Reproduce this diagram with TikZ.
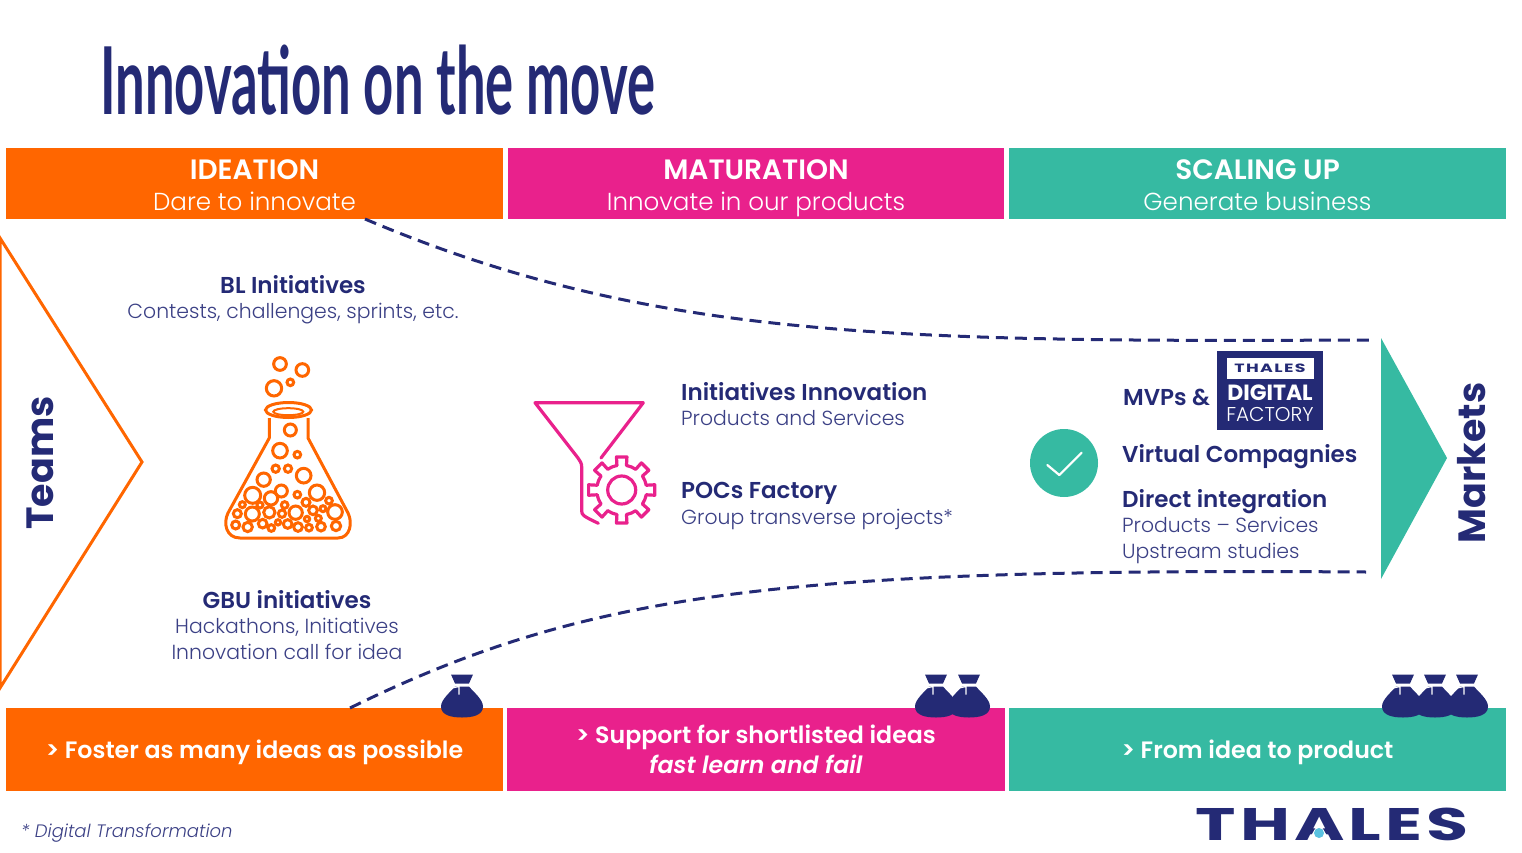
\documentclass[tikz,border=0pt]{standalone}
\usepackage{fontspec}
\usepackage{graphicx}
\setmainfont{Poppins}
\newfontfamily\lightfont{Poppins Light}[ItalicFont={Poppins Light Italic}]
\newfontfamily\semifont{Poppins SemiBold}[ItalicFont={Poppins SemiBold Italic}]
\newfontfamily\handfont{Lato}
\usetikzlibrary{positioning, calc}
\definecolor{thorange}{HTML}{FF6600}
\definecolor{thpink}{HTML}{E9218C}
\definecolor{thteal}{HTML}{36BAA2}
\definecolor{thnavy}{HTML}{242A75}
\definecolor{thsoft}{HTML}{3B4085}
\definecolor{thdot}{HTML}{5BC2E0}
\newcommand{\headtxt}{\fontsize{23}{25.5}\selectfont\semifont\color{thnavy}}
\newcommand{\subtxt}{\fontsize{20.4}{25.5}\selectfont\lightfont\color{thsoft}}
\newcommand{\barhead}{\rule{0pt}{32pt}\fontsize{28}{31}\selectfont\semifont}
\newcommand{\barsub}{\rule[-8pt]{0pt}{8pt}\fontsize{24.6}{31}\selectfont\lightfont}
\tikzset{
    headbar/.style={minimum height=71pt, inner sep=0pt, outer sep=0pt, text=white, align=center,
        font=\fontsize{24}{31}\selectfont},
    footbar/.style={minimum height=83pt, inner sep=0pt, outer sep=0pt, text=white, align=center,
        font=\fontsize{23.7}{30}\selectfont\semifont},
    note/.style={inner sep=0pt, align=center, font=\fontsize{20}{25.5}\selectfont},
    leftnote/.style={note, align=left, anchor=west},
    dashline/.style={draw=thnavy, line width=3pt, dash pattern=on 12pt off 7pt},
    flaskline/.style={draw=thorange, line width=3pt},
    funnelline/.style={draw=thpink, line width=3.2pt, line cap=round, line join=round},
    moneybag/.pic={
        \fill[thnavy] (-11,-21) -- (11,-21) -- (7,-12) -- (-7,-12) -- cycle;
        \fill[thnavy] (-7,-9) -- (7,-9) .. controls (12,-3) and (21,4) .. (21,11)
            .. controls (21,20) and (10,22) .. (0,22)
            .. controls (-10,22) and (-21,20) .. (-21,11)
            .. controls (-21,4) and (-12,-3) .. (-7,-9) -- cycle;
        \draw[white, line width=1.2pt] (-8,-10.5) -- (8,-10.5) (-12,-7) -- (-3,-9) -- (-3,-1);
    }
}
\begin{document}
\begin{tikzpicture}[x=1pt, y=-1pt]
    \useasboundingbox (0,0) rectangle (1522,853);
    % title
    \node[inner sep=0pt, anchor=west, xscale=.73, yscale=1.3] (title) at (100,80)
        {\fontsize{72}{72}\selectfont\handfont\bfseries\color{thnavy}Innovation on the move};
    % top bars
    \node[headbar, fill=thorange, minimum width=497pt, anchor=north west] (ideationbar) at (6,148)
        {\barhead IDEATION\\\barsub Dare to innovate};
    \node[headbar, fill=thpink, minimum width=496pt] (maturationbar) [right=5pt of ideationbar]
        {\barhead MATURATION\\\barsub Innovate in our products};
    \node[headbar, fill=thteal, minimum width=497pt] (scalingbar) [right=5pt of maturationbar]
        {\barhead SCALING UP\\\barsub Generate business};
    % bottom bars
    \node[footbar, fill=thorange, minimum width=497pt, anchor=north west] (ideationfoot) at (6,708)
        {\raisebox{-9pt}[0pt][0pt]{> Foster as many ideas as possible}};
    \node[footbar, fill=thpink, minimum width=498pt] (maturationfoot) [right=4pt of ideationfoot]
        {> Support for shortlisted ideas\\\itshape fast learn and fail};
    \node[footbar, fill=thteal, minimum width=497pt] (scalingfoot) [right=4pt of maturationfoot]
        {\raisebox{-9pt}[0pt][0pt]{> From idea to product}};
    % arrows at both sides
    \draw[thorange, line width=3pt, line join=miter] (0,238) -- (142,462) -- (0,688) -- cycle;
    \fill[thteal] (1381,338) -- (1447,458) -- (1381,579) -- cycle;
    \node[inner sep=0pt, rotate=90] (teams) at (40,463)
        {\fontsize{38}{38}\selectfont\bfseries\color{thnavy}Teams};
    \node[inner sep=0pt, rotate=90] (markets) at (1472,463)
        {\fontsize{38}{38}\selectfont\bfseries\color{thnavy}Markets};
    % dashed curves
    \coordinate (upperstart) at (365,219);
    \coordinate (upperend) at (1370,340);
    \coordinate (lowerstart) at (350,708);
    \coordinate (lowerend) at (1366,572);
    \draw[dashline] (upperstart) .. controls (650,340) and (900,342) .. (upperend);
    \draw[dashline] (lowerstart) .. controls (590,590) and (790,568) .. (lowerend);
    % left column
    \node[note] (blnote) at (293,299.5) {\headtxt BL Initiatives\\\subtxt Contests, challenges, sprints, etc.};
    \node[note] (gbunote) at (287,625) {\headtxt GBU initiatives\\\subtxt Hackathons, Initiatives\\\subtxt Innovation call for idea};
    % flask
    \draw[flaskline, line join=round] (269.3,418) -- (269.3,438) -- (228,513)
        .. controls (223,523) and (226,538) .. (240,538) -- (338,538)
        .. controls (350,538) and (353,523) .. (348,513) -- (308,438) -- (308,418);
    \draw[flaskline, fill=white] (288.5,410) ellipse (23 and 7.5);
    \draw[flaskline, line width=2pt] (288.3,411.7) ellipse (15 and 3.5);
    \foreach \cx/\cy/\cr in {210/42/19,277/60/19,192/115/23,241/97/10,241/240/18,210/302/22,262/314/10,
        197/356/11,234/356/11,281/377/22,161/389/20,128/436/24,183/445/20,214/423/18,321/428/23,262/434/10,
        97/464/9,150/465/9,224/465/10,288/457/12,357/452/10,82/491/12,127/492/21,178/487/17,216/491/11,
        257/488/20,309/481/13,339/476/9,375/486/22,77/525/12,113/531/14,158/521/13,184/534/10,204/517/8,
        233/522/13,264/531/13,297/533/10,291/507/8,325/505/9,333/530/13,378/528/14}
        \draw[flaskline] ({210+\cx/3},{350+\cy/3}) circle ({\cr/3});
    % funnel and gear
    \draw[funnelline] (601,458) -- (643.3,402.7) -- (535,402.7) -- (578,458)
        .. controls (580,461) and (581.7,463) .. (581.7,467) -- (581.7,511)
        .. controls (581.7,515) and (583,516) .. (598.3,523.3);
    \begin{scope}[shift={(621.7,490)}]
        \foreach \a in {0,45,...,315}
            \draw[funnelline] (\a-11:25) -- (\a-9:33.5) -- (\a+9:33.5) -- (\a+11:25)
                arc[start angle=\a+11, end angle=\a+34, radius=25];
        \draw[funnelline] (0,0) circle (14);
    \end{scope}
    % middle column
    \node[leftnote] (initnote) at (681,404) {\headtxt Initiatives Innovation\\\subtxt Products and Services};
    \node[leftnote] (pocnote) at (681,506) {\headtxt POCs Factory\\\subtxt Group transverse projects*};
    % right column
    \node[fill=thteal, circle, minimum size=68pt, inner sep=0pt] (checkdisc) at (1064,463) {};
    \draw[white, line width=2.2pt, line cap=round, line join=round]
        ($(checkdisc)+(-16.7,2)$) -- ($(checkdisc)+(-4.7,12)$) -- ($(checkdisc)+(17.7,-10.3)$);
    \node[leftnote] (mvpnote) at (1123,397) {\headtxt MVPs \&};
    \node[fill=thnavy, minimum width=106pt, minimum height=79pt, inner sep=0pt, anchor=north west] (factorybox) at (1217,351) {};
    \node[fill=white, minimum width=87pt, minimum height=21pt, inner sep=0pt] (thalesbox) at (1270,368)
        {\scalebox{1.45}[1]{\fontsize{12}{12}\selectfont\bfseries\color{thnavy}\addfontfeature{LetterSpace=8}THALES}};
    \node[inner sep=0pt, text=white] (digitaltxt) at (1270,393) {\fontsize{22}{22}\selectfont\bfseries DIGITAL};
    \node[inner sep=0pt, text=white] (factorytxt) at (1270,414) {\fontsize{20}{20}\selectfont\lightfont FACTORY};
    \node[leftnote] (virtualnote) at (1122,457) {\headtxt Virtual Compagnies};
    \node[leftnote] (directnote) at (1122,526.5) {\headtxt Direct integration\\\subtxt Products – Services\\\subtxt Upstream studies};
    % bags
    \pic at (462,695.5) {moneybag};
    \pic at (936,695.5) {moneybag};
    \pic at (969,695.5) {moneybag};
    \pic at (1403,695.5) {moneybag};
    \pic at (1435,695.5) {moneybag};
    \pic at (1467,695.5) {moneybag};
    % footer
    \node[leftnote] (footnote) at (21,833) {\fontsize{18}{18}\selectfont\lightfont\itshape\color{thsoft}* Digital Transformation};
    \node[inner sep=0pt, xscale=1.8, yscale=1.2] (thaleslogo) at (1332,824)
        {\fontsize{38}{38}\selectfont\bfseries\color{thnavy}\addfontfeature{LetterSpace=6}THALES};
    \fill[white] (1319,822) -- (1308,841) -- (1330,841) -- cycle;
    \fill[thdot] (1319,833) circle (5);
\end{tikzpicture}
\end{document}
